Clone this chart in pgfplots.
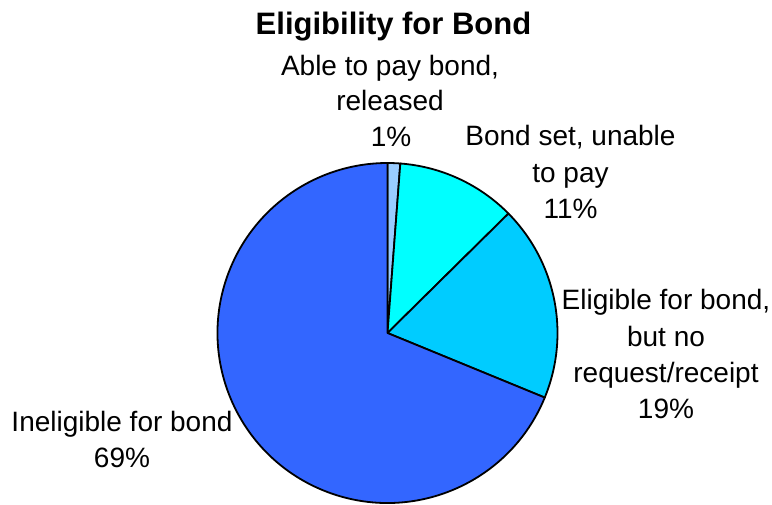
\documentclass[border=0pt]{standalone}
\usepackage{pgfplots}
\pgfplotsset{compat=1.18}
\usepackage{fontspec}
\setmainfont{Liberation Sans}
\definecolor{sA}{HTML}{99CCFF}
\definecolor{sB}{HTML}{00FFFF}
\definecolor{sC}{HTML}{00CCFF}
\definecolor{sD}{HTML}{3366FF}
% shares (percent), clockwise from 12 o'clock
\def\vA{1.2}\def\vB{11.4}\def\vC{18.6}\def\vD{68.8}
\begin{document}
\begin{tikzpicture}
\pgfmathsetmacro{\aO}{90}
\pgfmathsetmacro{\aA}{90-3.6*\vA}
\pgfmathsetmacro{\aB}{\aA-3.6*\vB}
\pgfmathsetmacro{\aC}{\aB-3.6*\vC}
\pgfmathsetmacro{\aD}{\aC-3.6*\vD}
\begin{axis}[
  scale only axis, width=772pt, height=504pt,
  xmin=0, xmax=772, ymin=-504, ymax=0,
  hide axis, clip=false,
]
\def\pie#1#2#3{\filldraw[fill=#3, draw=black, line width=1.8pt, line join=round]
  (axis cs:387.5,-333) -- ++(#1:170pt) arc[start angle=#1, end angle=#2, radius=170pt] -- cycle;}
\pie{\aO}{\aA}{sA}
\pie{\aA}{\aB}{sB}
\pie{\aB}{\aC}{sC}
\pie{\aC}{\aD}{sD}
\tikzset{lab/.style={anchor=base, inner sep=0pt, font=\fontsize{28}{34}\selectfont}}
\node[anchor=base, inner sep=0pt, font=\fontsize{31}{36}\selectfont\bfseries] at (axis cs:393.5,-35) {Eligibility for Bond};
% Able to pay bond, released
\node[lab] at (axis cs:390,-76) {Able to pay bond,};
\node[lab] at (axis cs:390,-111) {released};
\node[lab] at (axis cs:391,-147) {1\%};
% Bond set, unable to pay
\node[lab] at (axis cs:570.5,-146) {Bond set, unable};
\node[lab] at (axis cs:570.5,-183) {to pay};
\node[lab] at (axis cs:570.5,-219) {11\%};
% Eligible for bond
\node[lab] at (axis cs:666,-310) {Eligible for bond,};
\node[lab] at (axis cs:666,-346.5) {but no};
\node[lab] at (axis cs:666,-382) {request/receipt};
\node[lab] at (axis cs:666,-418) {19\%};
% Ineligible
\node[lab] at (axis cs:122,-431) {Ineligible for bond};
\node[lab] at (axis cs:122,-467) {69\%};
\end{axis}
\pgfresetboundingbox
\path (current axis.south west) rectangle (current axis.north east);
\end{tikzpicture}
\end{document}
